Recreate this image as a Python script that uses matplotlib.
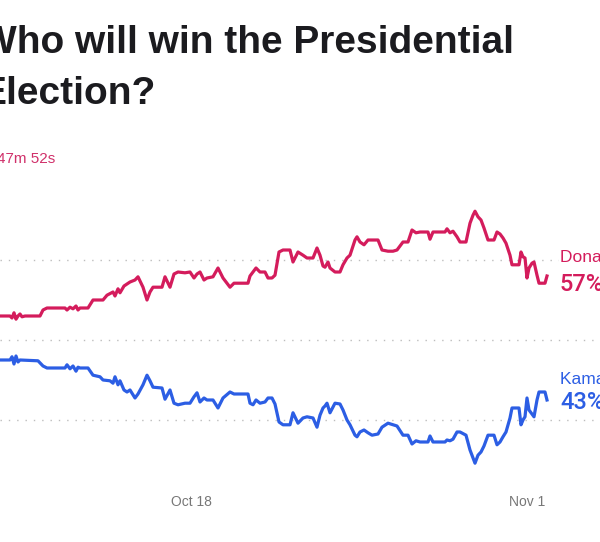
import matplotlib.pyplot as plt
import pandas as pd

# hours after 2024-10-10 01:00, chance of winning in %
start = pd.Timestamp("2024-10-10 01:00")

trump_hours = [0, 10, 12, 14, 16, 18, 20, 22, 25, 40, 43, 47, 65, 67, 70, 73, 76, 78, 80, 88,
               93, 103, 107, 113, 115, 118, 120, 124, 127, 130, 135, 138, 143, 147, 150, 153,
               162, 165, 170, 174, 178, 185, 190, 194, 197, 200, 204, 207, 213, 218, 223, 230,
               234, 248, 250, 253, 256, 260, 265, 268, 272, 275, 279, 283, 290, 293, 298, 303,
               307, 313, 317, 320, 323, 325, 328, 330, 335, 340, 343, 347, 350, 355, 357, 360,
               364, 368, 372, 378, 382, 388, 393, 397, 403, 408, 412, 416, 420, 428, 430, 433,
               445, 447, 450, 453, 457, 460, 466, 470, 473, 475, 478, 481, 484, 488, 494, 497,
               500, 503, 506, 510, 512, 519, 521, 523, 525, 527, 529, 532, 534, 537, 539, 545, 547]
trump_pct = [53.0, 53.0, 52.75, 53.4, 52.6, 53.0, 53.25, 52.9, 53.0, 53.0, 53.75, 54.0, 54.0,
             53.75, 54.1, 53.9, 54.25, 53.75, 54.0, 54.0, 55.0, 55.0, 55.6, 56.0, 55.5, 56.4,
             55.9, 56.75, 57.0, 57.25, 57.5, 57.9, 56.6, 55.0, 56.0, 56.6, 56.6, 57.9, 56.6,
             58.25, 58.5, 58.4, 58.5, 57.75, 58.25, 58.5, 57.5, 57.75, 57.9, 59.0, 57.75, 56.6,
             57.1, 57.1, 58.0, 58.5, 59.0, 58.5, 58.5, 57.75, 57.75, 58.1, 61.0, 61.25, 61.25,
             59.75, 61.0, 60.6, 60.25, 60.25, 61.5, 60.6, 59.25, 59.1, 59.75, 59.0, 58.5, 58.5,
             59.4, 60.25, 60.6, 62.5, 62.9, 62.25, 61.9, 62.5, 62.5, 62.5, 61.25, 61.1, 61.1,
             61.25, 62.25, 62.25, 63.75, 63.4, 63.5, 63.5, 62.6, 63.5, 63.5, 63.9, 63.4, 63.6,
             62.9, 62.25, 62.25, 64.6, 65.6, 66.1, 65.4, 65.0, 64.0, 62.5, 62.5, 63.5, 63.25,
             62.75, 62.1, 60.6, 59.4, 59.4, 61.0, 60.4, 60.25, 57.75, 59.0, 59.6, 59.75, 58.1,
             57.1, 57.1, 58.0]

harris_hours = [0, 10, 12, 14, 16, 18, 20, 38, 43, 47, 65, 67, 70, 73, 76, 78, 80, 88,
                93, 100, 103, 110, 113, 115, 118, 120, 124, 127, 130, 135, 138, 143, 147, 150,
                153, 162, 165, 170, 174, 178, 185, 190, 194, 197, 200, 204, 207, 213, 218, 223,
                230, 234, 248, 250, 253, 256, 260, 265, 268, 272, 275, 279, 283, 290, 293, 298,
                303, 307, 313, 317, 320, 323, 325, 327, 330, 335, 340, 343, 347, 350, 355, 357,
                360, 364, 368, 372, 378, 382, 388, 393, 397, 403, 408, 412, 416, 420, 428, 430,
                433, 445, 447, 450, 453, 457, 460, 466, 470, 473, 475, 478, 481, 484, 488, 494,
                497, 500, 503, 506, 510, 512, 519, 521, 523, 525, 527, 529, 532, 534, 537, 539,
                545, 547]
harris_pct = [47.5, 47.5, 47.9, 47.0, 48.0, 47.25, 47.5, 47.4, 46.75, 46.5, 46.5, 46.9, 46.4,
              46.75, 46.1, 46.6, 46.5, 46.5, 45.6, 45.4, 45.0, 44.9, 44.6, 45.4, 44.4, 44.9,
              43.75, 43.5, 43.75, 42.75, 43.25, 44.4, 45.6, 44.9, 44.1, 44.0, 42.6, 43.75, 42.1,
              41.9, 42.1, 42.1, 42.9, 43.4, 42.25, 42.75, 42.5, 42.5, 41.5, 42.75, 43.5, 43.25,
              43.25, 42.1, 41.9, 42.5, 42.1, 42.25, 42.75, 42.75, 42.0, 39.75, 39.4, 39.4, 40.9,
              39.6, 40.25, 40.4, 40.25, 39.1, 40.6, 41.5, 41.75, 42.1, 40.9, 42.1, 42.0, 41.25,
              40.0, 39.4, 38.1, 37.9, 38.5, 38.75, 38.4, 38.1, 38.25, 39.1, 39.6, 39.4, 39.25,
              38.1, 38.1, 37.0, 37.4, 37.25, 37.25, 38.0, 37.25, 37.25, 37.5, 37.4, 37.6, 38.5,
              38.5, 38.1, 36.25, 35.25, 34.6, 35.6, 36.0, 36.75, 38.1, 38.1, 36.9, 37.25, 37.9,
              38.5, 40.25, 41.5, 41.5, 39.4, 40.0, 40.4, 42.75, 41.25, 40.75, 40.4, 42.5, 43.5,
              43.5, 42.5]

tick_dates = ["2024-10-18", "2024-11-01"]
tick_labels = ["Oct 18", "Nov 1"]
grid_levels = [40, 50, 60]

red = "#d41c5c"
blue = "#2c5ee4"

plt.rcParams['font.family'] = ['Liberation Sans', 'DejaVu Sans']

fig = plt.figure(figsize=(6, 5.42), dpi=100)
ax = fig.add_axes([0, 0.1218, 1, 0.5018])

t_trump = [start + pd.Timedelta(hours=h) for h in trump_hours]
t_harris = [start + pd.Timedelta(hours=h) for h in harris_hours]

for g in grid_levels:
    ax.axhline(g, color="#bdbdbd", lw=1, ls=(0, (1, 5)), zorder=1)

ax.plot(t_trump, trump_pct, color=red, lw=2.3, zorder=3)
ax.plot(t_harris, harris_pct, color=blue, lw=2.3, zorder=3)

ax.set_xlim(start, start + pd.Timedelta(hours=600))
ax.set_ylim(33, 67)
ax.set_xticks([pd.Timestamp(d) for d in tick_dates])
ax.set_xticklabels(tick_labels)
ax.tick_params(axis="x", length=0, pad=14, labelsize=10, labelcolor="#777777")
ax.set_yticks([])
for s in ax.spines.values():
    s.set_visible(False)

# end labels (cut by the right edge, as in the screenshot)
lab_x = start + pd.Timedelta(hours=560)
box = dict(facecolor="white", edgecolor="none", pad=1)
ax.text(lab_x, 60.3, "Donald Trump", color=red, fontsize=12.5, va="center", ha="left", bbox=box, zorder=4)
ax.text(lab_x, 57.0, "57%", color=red, fontsize=17, va="center", ha="left", bbox=box, zorder=4,
        family=["Roboto", "Liberation Sans"], fontweight="medium")
ax.text(lab_x, 45.0, "Kamala Harris", color=blue, fontsize=12.5, va="center", ha="left", bbox=box, zorder=4)
ax.text(lab_x, 42.2, "43%", color=blue, fontsize=17, va="center", ha="left", bbox=box, zorder=4,
        family=["Roboto", "Liberation Sans"], fontweight="medium")

# title and countdown, cropped at the left edge like the screenshot
fig.text(-20 / 600, 1 - 53 / 542, "Who will win the Presidential", fontsize=28, fontweight="bold",
         color="#1b1b1f", ha="left", va="baseline")
fig.text(-20 / 600, 1 - 104 / 542, "Election?", fontsize=28, fontweight="bold",
         color="#1b1b1f", ha="left", va="baseline")
fig.text(-3 / 600, 1 - 163 / 542, "47m 52s", fontsize=11, color="#d0306a", ha="left", va="baseline")

fig.savefig("out.png", dpi=100)
